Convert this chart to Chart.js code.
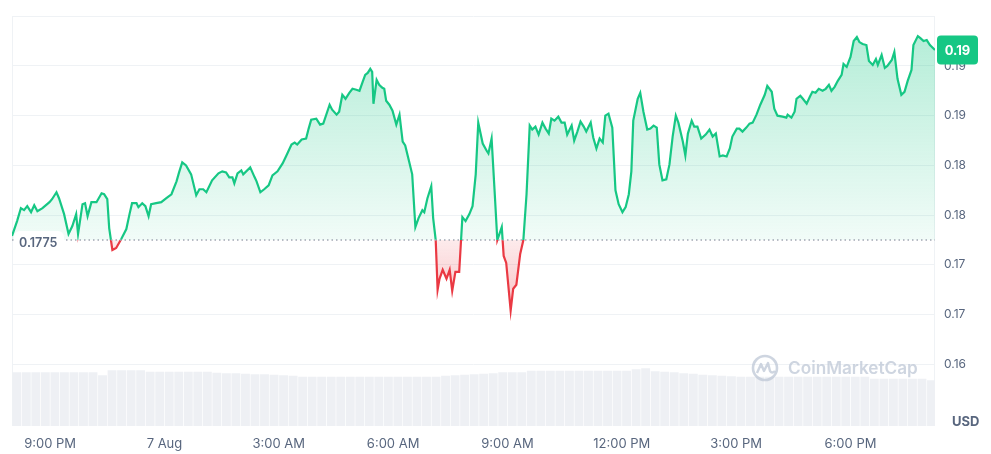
<!DOCTYPE html>
<html>
<head>
<meta charset="utf-8">
<script src="https://cdn.jsdelivr.net/npm/chart.js@4.4.0/dist/chart.umd.min.js"></script>
<style>
  html, body { margin: 0; padding: 0; background: #fff; }
  #wrap { width: 991px; height: 454px; }
</style>
</head>
<body>
<div id="wrap"><canvas id="myChart" width="991" height="454"></canvas></div>
<script>
// minutes after 8:00 PM (6 Aug)
const times = [
  0,8,14,19,24,30,35,40,48,59,
  63,70,74,82,89,95,101,104,111,115,
  119,125,133,141,145,150,153,158,164,172,
  180,185,189,196,199,205,210,215,219,227,
  235,243,251,259,263,268,274,282,290,295,
  301,306,315,325,331,337,342,347,350,355,
  361,364,375,382,385,391,397,404,410,418,
  426,432,440,445,449,456,463,467,471,479,
  485,490,500,504,511,515,520,525,531,536,
  542,547,552,556,560,564,567,569,574,578,
  583,586,589,594,599,605,610,615,619,624,
  630,635,640,646,649,654,660,663,667,670,
  673,678,684,689,693,698,704,709,714,720,
  725,730,734,741,747,750,755,760,764,771,
  774,778,785,789,794,800,805,810,815,819,
  824,829,835,840,845,849,854,860,865,870,
  874,881,885,890,895,900,904,911,915,920,
  925,930,934,939,945,950,955,961,966,971,
  975,978,985,989,994,1000,1005,1010,1015,1019,
  1024,1030,1035,1040,1045,1049,1056,1060,1064,1070,
  1074,1079,1085,1092,1098,1103,1108,1114,1119,1125,
  1130,1134,1141,1145,1150,1156,1161,1166,1172,1178,
  1185,1189,1196,1200,1205,1213,1219,1221,1227,1232,
  1235,1241,1245,1251,1256,1260,1265,1270,1276,1281,
  1286,1290,1295,1300,1306,1309,1314,1320,1325,1330,
  1334,1339,1345,1349,1355,1360,1363,1369,1374,1378,
  1385,1389,1394,1400,1405,1410,1416,1419,1426,1430,
  1435,1440,1445,1453
];

const prices = [
  0.1779,0.1794,0.1807,0.1805,0.1809,0.1803,0.1810,0.1804,0.1807,0.1813,
  0.1816,0.1823,0.1817,0.1801,0.1781,0.1789,0.1801,0.1781,0.1811,0.1812,
  0.1799,0.1813,0.1813,0.1822,0.1821,0.1816,0.1787,0.1765,0.1767,0.1776,
  0.1786,0.1801,0.1812,0.1812,0.1808,0.1812,0.1809,0.1799,0.1811,0.1812,
  0.1813,0.1817,0.1821,0.1834,0.1843,0.1853,0.1850,0.1841,0.1820,0.1826,
  0.1826,0.1823,0.1835,0.1842,0.1844,0.1843,0.1838,0.1838,0.1832,0.1842,
  0.1845,0.1841,0.1848,0.1838,0.1834,0.1823,0.1826,0.1830,0.1840,0.1844,
  0.1852,0.1860,0.1871,0.1873,0.1871,0.1876,0.1877,0.1887,0.1896,0.1897,
  0.1891,0.1892,0.1911,0.1906,0.1901,0.1904,0.1921,0.1917,0.1923,0.1927,
  0.1926,0.1925,0.1934,0.1941,0.1943,0.1947,0.1944,0.1912,0.1936,0.1931,
  0.1928,0.1927,0.1915,0.1911,0.1905,0.1891,0.1901,0.1874,0.1870,0.1857,
  0.1841,0.1788,0.1797,0.1805,0.1803,0.1817,0.1829,0.1797,0.1775,0.1725,
  0.1736,0.1745,0.1736,0.1745,0.1724,0.1743,0.1743,0.1798,0.1794,0.1801,
  0.1809,0.1841,0.1893,0.1872,0.1865,0.1862,0.1877,0.1821,0.1775,0.1788,
  0.1759,0.1752,0.1704,0.1726,0.1730,0.1761,0.1775,0.1821,0.1890,0.1886,
  0.1889,0.1881,0.1893,0.1887,0.1882,0.1897,0.1895,0.1899,0.1893,0.1893,
  0.1881,0.1890,0.1875,0.1884,0.1894,0.1889,0.1884,0.1893,0.1878,0.1867,
  0.1877,0.1873,0.1900,0.1902,0.1888,0.1825,0.1811,0.1803,0.1808,0.1821,
  0.1844,0.1895,0.1917,0.1923,0.1904,0.1886,0.1887,0.1890,0.1888,0.1851,
  0.1835,0.1836,0.1851,0.1879,0.1900,0.1893,0.1874,0.1860,0.1882,0.1895,
  0.1889,0.1889,0.1877,0.1881,0.1886,0.1879,0.1882,0.1859,0.1860,0.1859,
  0.1867,0.1879,0.1887,0.1887,0.1884,0.1888,0.1892,0.1893,0.1901,0.1911,
  0.1921,0.1930,0.1924,0.1907,0.1900,0.1899,0.1898,0.1901,0.1898,0.1904,
  0.1917,0.1920,0.1917,0.1912,0.1919,0.1924,0.1923,0.1927,0.1925,0.1927,
  0.1931,0.1925,0.1929,0.1935,0.1941,0.1952,0.1949,0.1959,0.1975,0.1979,
  0.1974,0.1972,0.1971,0.1955,0.1951,0.1957,0.1951,0.1961,0.1948,0.1950,
  0.1956,0.1964,0.1937,0.1921,0.1924,0.1935,0.1946,0.1971,0.1980,0.1978,
  0.1975,0.1976,0.1971,0.1966
];

// volume (millions USD), one bar every 15 minutes
const volumes = [
  5.4,5.4,5.4,5.4,5.4,5.4,5.4,5.4,5.4,5.1,
  5.6,5.6,5.6,5.6,
  5.45,5.45,5.45,5.45,5.45,5.45,5.45,
  5.35,5.3,5.3,5.25,5.2,5.2,5.15,5.1,5.05,
  4.95,4.95,4.95,4.95,4.95,4.95,4.95,4.95,4.95,4.95,4.95,4.95,4.95,4.95,4.95,
  5.05,5.1,5.15,5.2,5.25,5.3,
  5.4,5.4,5.4,
  5.55,5.55,5.55,5.55,5.55,5.55,5.55,5.55,5.55,5.55,5.55,
  5.7,5.8,
  5.5,5.45,5.4,5.3,5.25,5.15,
  5.1,5.05,5.0,4.95,
  4.95,4.95,4.95,4.95,4.95,4.95,4.95,4.95,4.95,4.95,4.95,4.95,4.95,
  4.75,4.75,4.75,4.75,4.75,4.75,
  4.6
];
const volStep = 15;

const baseline = 0.1775;
const baselineLabel = '0.1775';
const currentLabel = '0.19';

const xTickValues = [60, 240, 420, 600, 780, 960, 1140, 1320];
const xTickLabels = ['9:00 PM', '7 Aug', '3:00 AM', '6:00 AM', '9:00 AM', '12:00 PM', '3:00 PM', '6:00 PM'];
const yTickValues = [0.165, 0.17, 0.175, 0.18, 0.185, 0.19, 0.195, 0.2];
const yTickLabels = ['0.16', '0.17', '0.17', '0.18', '0.18', '0.19', '0.19', ''];

const GREEN = '#16c784';
const RED = '#ea3943';
const TEXT = '#58667e';

Chart.defaults.font.family = 'Inter, "Noto Sans", sans-serif';

function splitGradient(chart, topColor, baseAbove, baseBelow, bottomColor) {
  const {chartArea, scales} = chart;
  const top = chartArea.top, bottom = chartArea.bottom;
  const f = (scales.y.getPixelForValue(baseline) - top) / (bottom - top);
  const fLow = (scales.y.getPixelForValue(Math.min(...prices)) - top) / (bottom - top);
  const g = chart.ctx.createLinearGradient(0, top, 0, bottom);
  g.addColorStop(0, topColor);
  g.addColorStop(f, baseAbove);
  g.addColorStop(f, baseBelow);
  g.addColorStop(Math.min(1, fLow), bottomColor);
  g.addColorStop(1, bottomColor);
  return g;
}

const extras = {
  id: 'extras',
  beforeDatasetsDraw(chart) {
    const {ctx, chartArea: a} = chart;
    ctx.save();
    ctx.strokeStyle = '#eff2f5';
    ctx.lineWidth = 1;
    ctx.beginPath();
    ctx.moveTo(a.left + 0.5, a.top);
    ctx.lineTo(a.left + 0.5, a.bottom);
    ctx.moveTo(a.right - 0.5, a.top);
    ctx.lineTo(a.right - 0.5, a.bottom);
    ctx.stroke();
    ctx.restore();
  },
  afterDatasetsDraw(chart) {
    const {ctx, chartArea: a, scales} = chart;
    const yb = scales.y.getPixelForValue(baseline);
    ctx.save();
    // dotted reference line
    ctx.strokeStyle = '#a1a7b3';
    ctx.lineWidth = 1.5;
    ctx.setLineDash([1.5, 3]);
    ctx.beginPath();
    ctx.moveTo(a.left, yb);
    ctx.lineTo(a.right, yb);
    ctx.stroke();
    ctx.setLineDash([]);
    // reference label
    ctx.fillStyle = '#fff';
    ctx.beginPath();
    ctx.roundRect(a.left + 2, yb - 9, 50, 24, 6);
    ctx.fill();
    ctx.fillStyle = TEXT;
    ctx.font = '600 12.5px Inter, "Noto Sans", sans-serif';
    ctx.textBaseline = 'middle';
    ctx.textAlign = 'left';
    ctx.fillText(baselineLabel, a.left + 7, yb + 3.5);
    // watermark
    const wx = 765, wy = 368;
    ctx.strokeStyle = 'rgba(190,199,214,0.75)';
    ctx.lineWidth = 2.6;
    ctx.beginPath();
    ctx.arc(wx, wy, 12, 0, Math.PI * 2);
    ctx.stroke();
    ctx.lineWidth = 2.4;
    ctx.lineJoin = 'round';
    ctx.beginPath();
    ctx.moveTo(wx - 8, wy + 5);
    ctx.lineTo(wx - 4, wy - 4);
    ctx.lineTo(wx - 1, wy + 3);
    ctx.lineTo(wx + 3, wy - 5);
    ctx.lineTo(wx + 5, wy + 3);
    ctx.quadraticCurveTo(wx + 7, wy + 6, wx + 10, wy + 3);
    ctx.stroke();
    ctx.fillStyle = 'rgba(190,199,214,0.75)';
    ctx.font = '600 19px Inter, "Noto Sans", sans-serif';
    const txt = 'CoinMarketCap';
    const w = ctx.measureText(txt).width;
    const sz = 19 * 130 / w;
    ctx.font = '600 ' + sz.toFixed(1) + 'px Inter, "Noto Sans", sans-serif';
    ctx.fillText(txt, 788, wy + 1);
    ctx.restore();
  },
  afterDraw(chart) {
    const {ctx, chartArea: a, scales} = chart;
    const yl = scales.y.getPixelForValue(prices[prices.length - 1]);
    ctx.save();
    ctx.fillStyle = GREEN;
    ctx.beginPath();
    ctx.roundRect(a.right + 2, yl - 14.5, 41, 29, 4);
    ctx.fill();
    ctx.fillStyle = '#fff';
    ctx.font = '700 13px Inter, "Noto Sans", sans-serif';
    ctx.textAlign = 'center';
    ctx.textBaseline = 'middle';
    ctx.fillText(currentLabel, a.right + 22.5, yl + 1);
    ctx.fillStyle = TEXT;
    ctx.font = '700 13px Inter, "Noto Sans", sans-serif';
    ctx.textAlign = 'left';
    ctx.fillText('USD', 952, 422);
    ctx.restore();
  }
};

new Chart(document.getElementById('myChart'), {
  data: {
    datasets: [
      {
        type: 'line',
        order: 1,
        data: times.map((t, i) => ({x: t, y: prices[i]})),
        yAxisID: 'y',
        borderWidth: 2.2,
        pointRadius: 0,
        tension: 0,
        borderColor: (c) => c.chart.chartArea ? splitGradient(c.chart, GREEN, GREEN, RED, RED) : GREEN,
        backgroundColor: (c) => c.chart.chartArea
          ? splitGradient(c.chart, 'rgba(22,199,132,0.34)', 'rgba(22,199,132,0.06)', 'rgba(234,57,67,0.10)', 'rgba(234,57,67,0.30)')
          : 'rgba(22,199,132,0.2)',
        fill: {target: {value: baseline}}
      },
      {
        type: 'bar',
        order: 2,
        data: volumes.map((v, i) => ({x: volStep / 2 + i * volStep, y: v})),
        yAxisID: 'yv',
        backgroundColor: '#eef0f4',
        barPercentage: 0.93,
        categoryPercentage: 1
      }
    ]
  },
  options: {
    responsive: false,
    animation: false,
    devicePixelRatio: 1,
    layout: {padding: {left: 12, top: 14, right: 0, bottom: 0}},
    plugins: {legend: {display: false}, tooltip: {enabled: false}},
    scales: {
      x: {
        type: 'linear',
        offset: false,
        min: 0,
        max: times[times.length - 1],
        grid: {display: false, drawTicks: false, offset: false},
        border: {display: false},
        afterBuildTicks: (s) => { s.ticks = xTickValues.map(v => ({value: v})); },
        afterFit: (s) => { s.height = 28; },
        ticks: {
          padding: 10,
          color: TEXT,
          font: {size: 13},
          maxRotation: 0,
          autoSkip: false,
          callback: (v) => xTickLabels[xTickValues.indexOf(v)]
        }
      },
      y: {
        position: 'right',
        min: 0.1588,
        max: 0.2,
        grid: {color: '#eff2f5', drawTicks: false},
        border: {display: false},
        afterBuildTicks: (s) => { s.ticks = yTickValues.map(v => ({value: v})); },
        afterFit: (s) => { s.width = 56; },
        ticks: {
          padding: 9,
          color: TEXT,
          font: {size: 12},
          callback: (v) => yTickLabels[yTickValues.indexOf(v)]
        }
      },
      yv: {
        display: false,
        min: 0,
        max: 41.17
      }
    }
  },
  plugins: [extras]
});
</script>
</body>
</html>
